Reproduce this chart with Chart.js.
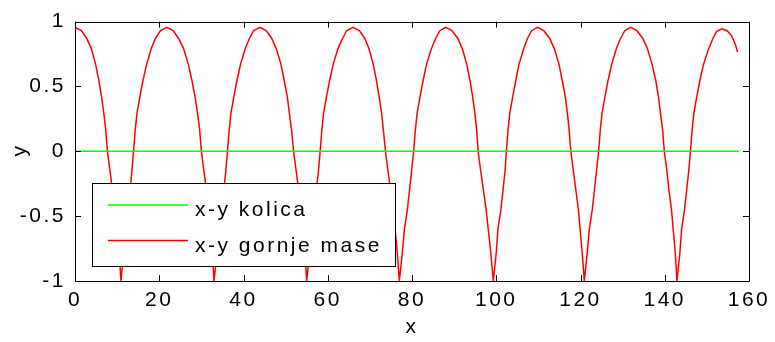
<!DOCTYPE html>
<html>
<head>
<meta charset="utf-8">
<script src="https://cdn.jsdelivr.net/npm/chart.js@4.4.1/dist/chart.umd.min.js"></script>
<style>
  html, body { margin: 0; padding: 0; background: #fff; }
  #wrap { width: 775px; height: 342px; }
</style>
</head>
<body>
<div id="wrap"><canvas id="plot" width="775" height="342"></canvas></div>
<script>
// tick values
var xTicks = [0, 20, 40, 60, 80, 100, 120, 140, 160];
var yTicks = [-1, -0.5, 0, 0.5, 1];

// x-y kolica (cart), flat on y = 0
var kolicaX = [0, 157.6];
var kolicaY = [0, 0];

// x-y gornje mase (upper mass)
var gornjaX = [
  0, 1.5, 2.8, 3.9, 4.9, 5.7, 6.3, 6.85, 7.3, 7.7, 8.3, 8.9, 9.5, 10.0, 10.5, 10.9,
  11.6, 12.0, 12.6, 13.1, 13.5, 13.9, 14.3, 14.7, 15.4, 16.1, 17.0, 18.1, 19.1, 20.3, 21.8,
  23.3, 24.6, 25.8, 26.9, 27.8, 28.5, 29.1, 29.6, 30.0, 30.6, 31.2, 31.8, 32.2, 32.6, 33.0,
  33.7, 34.1, 34.8, 35.3, 35.8, 36.2, 36.6, 37.0, 37.7, 38.4, 39.3, 40.4, 41.4, 42.4, 43.9,
  45.4, 46.7, 47.8, 48.9, 49.7, 50.4, 50.9, 51.4, 51.9, 52.5, 53.1, 53.7, 54.1, 54.6, 55.0,
  55.7, 56.1, 56.8, 57.3, 57.8, 58.2, 58.6, 59.0, 59.7, 60.4, 61.3, 62.4, 63.5, 64.5, 66.0,
  67.5, 68.8, 69.8, 70.8, 71.6, 72.2, 72.8, 73.2, 73.7, 74.3, 74.9, 75.6, 76.0, 76.5, 77.0,
  77.7, 78.2, 78.9, 79.4, 79.9, 80.4, 80.8, 81.2, 81.9, 82.6, 83.45, 84.6, 85.6, 86.6, 88.0,
  89.5, 90.9, 91.95, 93.0, 93.8, 94.4, 94.95, 95.35, 95.7, 96.3, 96.95, 97.6, 98.1, 98.7, 99.3,
  100.0, 100.4, 101.1, 101.6, 102.1, 102.4, 102.8, 103.2, 103.9, 104.6, 105.4, 106.5, 107.4, 108.4, 109.8,
  111.3, 112.7, 113.8, 114.9, 115.7, 116.4, 116.9, 117.3, 117.7, 118.3, 118.9, 119.5, 119.9, 120.4, 120.9,
  121.6, 122.1, 122.8, 123.3, 123.8, 124.3, 124.7, 125.1, 125.8, 126.5, 127.4, 128.5, 129.5, 130.5, 131.9,
  133.4, 134.8, 135.9, 137.0, 137.9, 138.5, 139.0, 139.5, 139.9, 140.5, 141.0, 141.6, 142.0, 142.5, 142.9,
  143.6, 144.0, 144.7, 145.2, 145.7, 146.1, 146.5, 146.9, 147.6, 148.3, 149.2, 150.3, 151.3, 152.3, 153.6,
  154.8, 155.9, 156.8, 157.3
];
var gornjaY = [
  0.955, 0.93, 0.87, 0.79, 0.67, 0.54, 0.42, 0.29, 0.165, 0, -0.15, -0.3, -0.45, -0.6, -0.78, -1,
  -0.78, -0.6, -0.45, -0.3, -0.15, 0, 0.165, 0.29, 0.42, 0.54, 0.67, 0.79, 0.87, 0.93, 0.955,
  0.93, 0.87, 0.79, 0.67, 0.54, 0.42, 0.29, 0.165, 0, -0.15, -0.3, -0.45, -0.6, -0.78, -1,
  -0.78, -0.6, -0.45, -0.3, -0.15, 0, 0.165, 0.29, 0.42, 0.54, 0.67, 0.79, 0.87, 0.93, 0.955,
  0.93, 0.87, 0.79, 0.67, 0.54, 0.42, 0.29, 0.165, 0, -0.15, -0.3, -0.45, -0.6, -0.78, -1,
  -0.78, -0.6, -0.45, -0.3, -0.15, 0, 0.165, 0.29, 0.42, 0.54, 0.67, 0.79, 0.87, 0.93, 0.955,
  0.93, 0.87, 0.79, 0.67, 0.54, 0.42, 0.29, 0.165, 0, -0.15, -0.3, -0.45, -0.6, -0.78, -1,
  -0.78, -0.6, -0.45, -0.3, -0.15, 0, 0.165, 0.29, 0.42, 0.54, 0.67, 0.79, 0.87, 0.93, 0.955,
  0.93, 0.87, 0.79, 0.67, 0.54, 0.42, 0.29, 0.165, 0, -0.15, -0.3, -0.45, -0.6, -0.78, -1,
  -0.78, -0.6, -0.45, -0.3, -0.15, 0, 0.165, 0.29, 0.42, 0.54, 0.67, 0.79, 0.87, 0.93, 0.955,
  0.93, 0.87, 0.79, 0.67, 0.54, 0.42, 0.29, 0.165, 0, -0.15, -0.3, -0.45, -0.6, -0.78, -1,
  -0.78, -0.6, -0.45, -0.3, -0.15, 0, 0.165, 0.29, 0.42, 0.54, 0.67, 0.79, 0.87, 0.93, 0.955,
  0.93, 0.87, 0.79, 0.67, 0.54, 0.42, 0.29, 0.165, 0, -0.15, -0.3, -0.45, -0.6, -0.78, -1,
  -0.78, -0.6, -0.45, -0.3, -0.15, 0, 0.165, 0.29, 0.42, 0.54, 0.67, 0.78, 0.86, 0.925, 0.945,
  0.93, 0.89, 0.82, 0.765
];

var FONT = '"Liberation Sans", Arial, sans-serif';

function toPoints(xs, ys) {
  return xs.map(function (x, i) { return { x: x, y: ys[i] }; });
}

// MATLAB-like frame with inward ticks on all four sides, plus the rotated y label
var framePlugin = {
  id: 'frame',
  beforeDraw: function (chart) {
    chart.ctx.letterSpacing = '2.5px';
  },
  afterDatasetsDraw: function (chart) {
    var ctx = chart.ctx, a = chart.chartArea;
    var sx = chart.scales.x, sy = chart.scales.y, len = 6;
    ctx.save();
    ctx.strokeStyle = '#000';
    ctx.lineWidth = 1;
    ctx.beginPath();
    ctx.rect(Math.round(a.left) + 0.5, Math.round(a.top) + 0.5,
             Math.round(a.right - a.left), Math.round(a.bottom - a.top));
    xTicks.forEach(function (v) {
      var px = Math.round(sx.getPixelForValue(v)) + 0.5;
      ctx.moveTo(px, a.bottom); ctx.lineTo(px, a.bottom - len);
      ctx.moveTo(px, a.top); ctx.lineTo(px, a.top + len);
    });
    yTicks.forEach(function (v) {
      var py = Math.round(sy.getPixelForValue(v)) + 0.5;
      ctx.moveTo(a.left, py); ctx.lineTo(a.left + len, py);
      ctx.moveTo(a.right, py); ctx.lineTo(a.right - len, py);
    });
    ctx.stroke();

    // y axis label, turned a quarter to the left like the reference
    ctx.translate(26, (a.top + a.bottom) / 2);
    ctx.rotate(-Math.PI / 2);
    ctx.font = '21px ' + FONT;
    ctx.letterSpacing = '0px';
    ctx.fillStyle = '#000';
    ctx.textAlign = 'center';
    ctx.textBaseline = 'alphabetic';
    ctx.fillText('y', 0, 0);
    ctx.restore();
  }
};

// boxed legend in the lower left of the plot
var legendBox = {
  id: 'legendBox',
  afterDraw: function (chart) {
    var ctx = chart.ctx;
    var box = { x: 92.5, y: 183.5, w: 303, h: 83 };
    var rows = [205, 240.5];
    ctx.save();
    ctx.fillStyle = '#fff';
    ctx.fillRect(box.x, box.y, box.w, box.h);
    ctx.strokeStyle = '#000';
    ctx.lineWidth = 1;
    ctx.strokeRect(box.x, box.y, box.w, box.h);
    ctx.font = '21px ' + FONT;
    ctx.letterSpacing = '2.5px';
    ctx.textBaseline = 'alphabetic';
    ctx.textAlign = 'left';
    chart.data.datasets.forEach(function (ds, i) {
      var y = rows[i];
      ctx.strokeStyle = ds.borderColor;
      ctx.lineWidth = 1.5;
      ctx.beginPath();
      ctx.moveTo(108, y);
      ctx.lineTo(188, y);
      ctx.stroke();
      ctx.fillStyle = '#000';
      ctx.fillText(ds.label, 195, y + 11);
    });
    ctx.restore();
  }
};

new Chart(document.getElementById('plot').getContext('2d'), {
  type: 'line',
  data: {
    datasets: [{
      label: 'x-y kolica',
      data: toPoints(kolicaX, kolicaY),
      borderColor: '#00ff00',
      borderWidth: 1.5,
      pointRadius: 0,
      tension: 0
    }, {
      label: 'x-y gornje mase',
      data: toPoints(gornjaX, gornjaY),
      borderColor: '#ff0000',
      borderWidth: 1.5,
      pointRadius: 0,
      tension: 0
    }]
  },
  options: {
    responsive: false,
    animation: false,
    events: [],
    layout: { padding: { left: 0, top: 16, right: 26, bottom: 0 } },
    plugins: {
      legend: { display: false },
      tooltip: { enabled: false }
    },
    scales: {
      x: {
        type: 'linear',
        min: 0,
        max: 160,
        afterBuildTicks: function (s) { s.ticks = xTicks.map(function (v) { return { value: v }; }); },
        afterFit: function (s) { s.height = 61; },
        grid: { display: false, drawTicks: false },
        border: { display: false },
        ticks: {
          autoSkip: false, maxRotation: 0, padding: 7,
          color: '#000', font: { family: FONT, size: 21 },
          callback: function (v) { return String(v); }
        },
        title: {
          display: true, text: 'x', color: '#000',
          font: { family: FONT, size: 21 }, padding: { top: 0, bottom: 2 }
        }
      },
      y: {
        type: 'linear',
        min: -1,
        max: 1,
        afterBuildTicks: function (s) { s.ticks = yTicks.map(function (v) { return { value: v }; }); },
        afterFit: function (s) { s.width = 75; },
        grid: { display: false, drawTicks: false },
        border: { display: false },
        ticks: {
          autoSkip: false, padding: 9,
          color: '#000', font: { family: FONT, size: 21 },
          callback: function (v) { return String(v); }
        }
      }
    }
  },
  plugins: [framePlugin, legendBox]
});
</script>
</body>
</html>
